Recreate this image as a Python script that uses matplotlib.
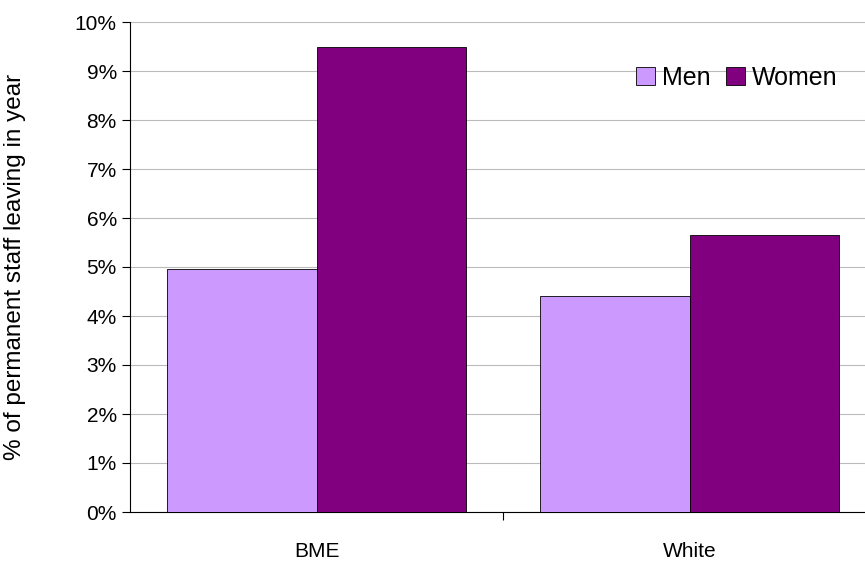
import matplotlib
matplotlib.use("Agg")
import matplotlib.pyplot as plt
import numpy as np

plt.rcParams['font.family'] = ['Liberation Sans', 'DejaVu Sans']

categories = ["BME", "White"]
men = [4.95, 4.4]
women = [9.5, 5.65]

W, H = 865, 567
fig = plt.figure(figsize=(W/100, H/100), dpi=100)
ax = fig.add_axes([130/W, (H-512)/H, 746/W, 490/H])
x = np.arange(len(categories))
bw = 0.4
ax.bar(x - bw/2, men, bw, color='#CC99FF', edgecolor='black', linewidth=0.6, label='Men', zorder=3)
ax.bar(x + bw/2, women, bw, color='#800080', edgecolor='black', linewidth=0.6, label='Women', zorder=3)
ax.set_xlim(-0.5, 1.5)
ax.set_ylim(0, 10)
ax.set_yticks(range(0, 11))
ax.set_yticklabels([f"{i}%" for i in range(11)], fontsize=15)
ax.set_xticks([0.5])
ax.set_xticklabels([""])
ax.tick_params(axis='x', length=6, direction='out')
ax.tick_params(axis='y', length=6, direction='out')
for xi, c in zip(x, categories):
    ax.text(xi, -0.62, c, ha='center', va='top', fontsize=15)
ax.grid(axis='y', color='#BBBBBB', linewidth=0.8, zorder=0)
for s in ['top', 'right']:
    ax.spines[s].set_visible(False)
ax.set_ylabel("% of permanent staff leaving in year", fontsize=17.5)
ax.yaxis.set_label_coords(-0.14, 0.5)
fig.legend(loc='center right', bbox_to_anchor=(838/W, 1 - 78/H), ncol=2, frameon=False,
           fontsize=18, handlelength=0.75, handleheight=0.75, handletextpad=0.3,
           columnspacing=0.6, borderaxespad=0, borderpad=0)
fig.savefig("out.png", dpi=100)
